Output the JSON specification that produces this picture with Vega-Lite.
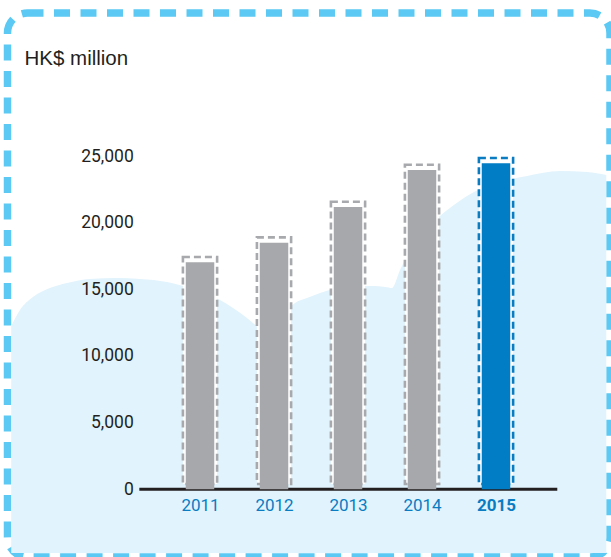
{
  "$schema": "https://vega.github.io/schema/vega-lite/v6.json",
  "width": 602.5,
  "height": 544,
  "autosize": "none",
  "padding": {"left": 7.5, "top": 13, "right": 1, "bottom": 0},
  "background": "white",
  "config": {
    "view": {"stroke": "#5bc9f4", "strokeWidth": 7.5, "strokeDash": [16, 10.5], "cornerRadius": 20, "fill": "white"}
  },
  "datasets": {
    "revenue": [
      {"year": 2011, "value": 17030},
      {"year": 2012, "value": 18500},
      {"year": 2013, "value": 21170},
      {"year": 2014, "value": 23950},
      {"year": 2015, "value": 24450}
    ],
    "cloud": [
      {"u": 0.62, "v": 12248}, {"u": 2.07, "v": 13448}, {"u": 4.23, "v": 14423}, {"u": 7.05, "v": 15098},
      {"u": 9.88, "v": 15473}, {"u": 13.69, "v": 15773}, {"u": 18.17, "v": 15848}, {"u": 21.99, "v": 15773},
      {"u": 26.47, "v": 15548}, {"u": 30.29, "v": 15098}, {"u": 35.27, "v": 14198}, {"u": 37.43, "v": 13598},
      {"u": 39.75, "v": 12848}, {"u": 41.58, "v": 12173}, {"u": 43.24, "v": 11723}, {"u": 45.23, "v": 12848},
      {"u": 47.72, "v": 13973}, {"u": 49.71, "v": 14348}, {"u": 51.87, "v": 14723}, {"u": 54.19, "v": 15023},
      {"u": 56.85, "v": 15173}, {"u": 60.66, "v": 15248}, {"u": 62.66, "v": 15173}, {"u": 63.82, "v": 15098},
      {"u": 65.15, "v": 16448}, {"u": 66.8, "v": 17873}, {"u": 68.46, "v": 18848}, {"u": 70.12, "v": 19748},
      {"u": 71.78, "v": 20498}, {"u": 73.44, "v": 21098}, {"u": 76.27, "v": 21998}, {"u": 78.42, "v": 22523},
      {"u": 81.74, "v": 23048}, {"u": 86.22, "v": 23498}, {"u": 91.7, "v": 23873}, {"u": 96.18, "v": 23798},
      {"u": 99.38, "v": 23573}
    ],
    "baseline": [{"from": 21.88, "to": 91.25, "level": 0}]
  },
  "layer": [
    {
      "data": {"name": "cloud"},
      "mark": {"type": "area", "interpolate": "monotone", "color": "#e1f3fc"},
      "encoding": {
        "x": {"field": "u", "type": "quantitative", "scale": {"domain": [0, 100], "nice": false, "zero": false}, "axis": null},
        "y": {"field": "v", "type": "quantitative", "scale": {"domain": [-5079, 35730], "nice": false, "zero": false}, "axis": null},
        "y2": {"datum": -4778}
      }
    },
    {
      "data": {"name": "baseline"},
      "mark": {"type": "rule", "color": "#231f20", "strokeWidth": 3},
      "encoding": {
        "x": {"field": "from", "type": "quantitative", "scale": {"domain": [0, 100], "nice": false, "zero": false}, "axis": null},
        "x2": {"field": "to"},
        "y": {"field": "level", "type": "quantitative", "axis": null}
      }
    },
    {
      "data": {"name": "revenue"},
      "mark": {"type": "bar", "width": 34.2, "yOffset": -5.3, "fill": "white", "strokeWidth": 2.6, "strokeDash": [7, 4]},
      "encoding": {
        "x": {"field": "year", "type": "quantitative", "scale": {"domain": [2008.466, 2016.473], "nice": false, "zero": false}, "axis": null},
        "y": {"field": "value", "type": "quantitative", "axis": null},
        "stroke": {"condition": {"test": "datum.year == 2015", "value": "#0a7cc2"}, "value": "#a7a9ac"}
      }
    },
    {
      "data": {"name": "revenue"},
      "mark": {"type": "bar", "width": 28.5},
      "encoding": {
        "x": {
          "field": "year", "type": "quantitative",
          "scale": {"domain": [2008.466, 2016.473], "nice": false, "zero": false},
          "axis": {
            "orient": "bottom", "offset": -67.7, "title": null, "domain": false, "ticks": false, "grid": false,
            "values": [2011, 2012, 2013, 2014, 2015], "format": "d", "zindex": 1,
            "labelAngle": 0, "labelPadding": 8, "labelFontSize": 17, "labelFont": "Liberation Sans Narrow, Roboto",
            "labelColor": "#0a7cc2",
            "labelFontWeight": {"condition": {"test": "datum.value == 2015", "value": "bold"}, "value": "normal"}
          }
        },
        "y": {
          "field": "value", "type": "quantitative",
          "axis": {
            "orient": "left", "offset": -131.8, "values": [0, 5000, 10000, 15000, 20000, 25000],
            "format": ",d", "formatType": "number", "zindex": 1,
            "domain": false, "ticks": false, "grid": false, "labelPadding": 6, "labelFontSize": 17.5,
            "labelFont": "Liberation Sans Narrow, Roboto", "labelColor": "#231f20",
            "title": "HK$ million", "titleAngle": 0, "titleX": -115.3, "titleY": 45, "titleAlign": "left",
            "titleBaseline": "middle", "titleFontSize": 20.5, "titleFontWeight": "normal", "titleFont": "Liberation Sans",
            "titleColor": "#231f20"
          }
        },
        "color": {"condition": {"test": "datum.year == 2015", "value": "#007dc5"}, "value": "#a7a8ab"}
      }
    }
  ],
  "resolve": {"scale": {"x": "independent"}, "axis": {"x": "independent", "y": "independent"}}
}
